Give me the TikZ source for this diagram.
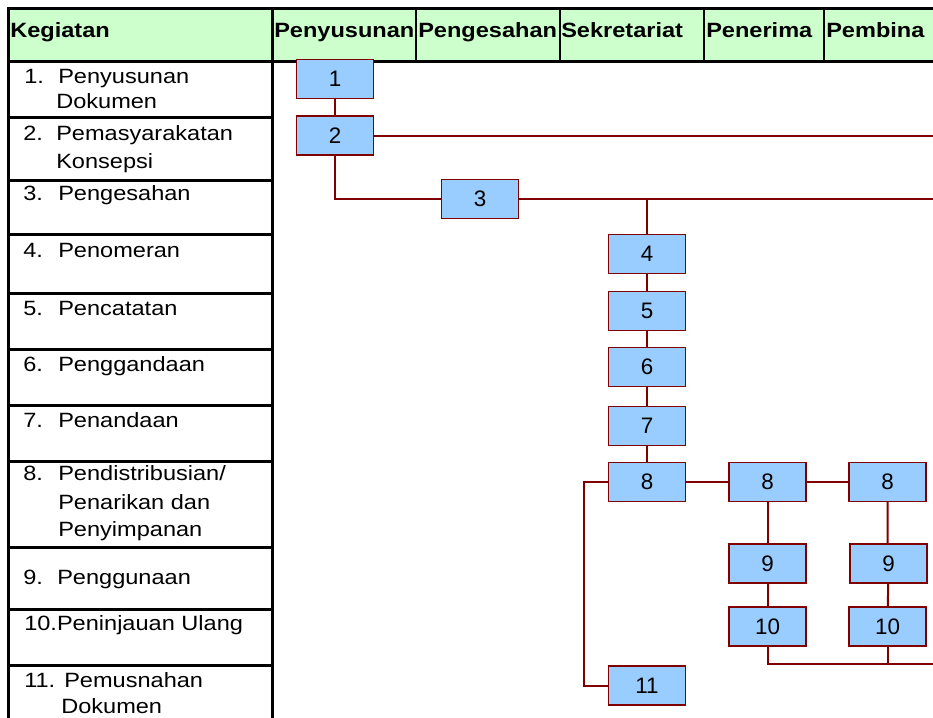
\documentclass[tikz,border=0pt]{standalone}
\usepackage{fontspec}
\setmainfont{Liberation Sans}
\newfontfamily\lebar[FakeStretch=1.14]{Liberation Sans}
\definecolor{hijaumuda}{HTML}{CCFFCC}
\definecolor{birukotak}{HTML}{99CCFF}
\definecolor{merahtua}{HTML}{800000}
\tikzset{
  kotak/.style={draw=merahtua, fill=birukotak, line width=1.1pt, minimum width=57.75pt,
    minimum height=29.25pt, inner sep=0pt, font=\fontsize{16.8}{20}\selectfont},
  judul/.style={anchor=base west, inner sep=0pt, font=\lebar\fontsize{15.5}{18}\selectfont\bfseries},
  isi/.style={anchor=base west, inner sep=0pt, font=\lebar\fontsize{15.5}{18}\selectfont},
  alur/.style={draw=merahtua, line width=1.5pt},
  tebal/.style={line width=2.25pt},
}
\begin{document}
\begin{tikzpicture}[x=0.75pt, y=-0.75pt]
  \useasboundingbox (0,0) rectangle (933,718);
  % kepala tabel
  \fill[hijaumuda] (8,8) rectangle (933,61);
  \draw[tebal] (7,8) -- (933,8) (7,61) -- (933,61);
  \draw[tebal] (8,7) -- (8,718) (272,8) -- (272,718);
  \foreach \x in {416,560,704,824}
    \draw[line width=1.5pt] (\x,8) -- (\x,61);
  \foreach \y in {117,180,234,293,349,405,461,547,609,665}
    \draw[tebal] (8,\y) -- (272,\y);
  \node[judul] (hKeg) at (10,37) {Kegiatan};
  \node[judul] (hSus) at (274,37) {Penyusunan};
  \node[judul] (hSah) at (418,37) {Pengesahan};
  \node[judul] (hSek) at (561,37) {Sekretariat};
  \node[judul] (hTer) at (706,37) {Penerima};
  \node[judul] (hBin) at (826,37) {Pembina};
  % kolom kegiatan
  \node[isi] (n1) at (24,83) {1.};
  \node[isi] (k1) at (58,83) {Penyusunan};
  \node[isi] (k1b) at (56,108) {Dokumen};
  \node[isi] (n2) at (23,140) {2.};
  \node[isi] (k2) at (56,140) {Pemasyarakatan};
  \node[isi] (k2b) at (56,168) {Konsepsi};
  \node[isi] (n3) at (23,200) {3.};
  \node[isi] (k3) at (58,200) {Pengesahan};
  \node[isi] (n4) at (23,257) {4.};
  \node[isi] (k4) at (58,257) {Penomeran};
  \node[isi] (n5) at (23,315) {5.};
  \node[isi] (k5) at (58,315) {Pencatatan};
  \node[isi] (n6) at (23,371) {6.};
  \node[isi] (k6) at (58,371) {Penggandaan};
  \node[isi] (n7) at (23,427) {7.};
  \node[isi] (k7) at (58,427) {Penandaan};
  \node[isi] (n8) at (23,480) {8.};
  \node[isi] (k8) at (58,480) {Pendistribusian/};
  \node[isi] (k8b) at (58,509) {Penarikan dan};
  \node[isi] (k8c) at (58,536) {Penyimpanan};
  \node[isi] (n9) at (23,584) {9.};
  \node[isi] (k9) at (57,584) {Penggunaan};
  \node[isi] (k10) at (24,630) {10.Peninjauan Ulang};
  \node[isi] (n11) at (24,687) {11.};
  \node[isi] (k11) at (64,687) {Pemusnahan};
  \node[isi] (k11b) at (61,713) {Dokumen};
  % kotak proses
  \node[kotak] (b1) at (335,79) {1};
  \node[kotak] (b2) at (335,135.5) {2};
  \node[kotak] (b3) at (480,199) {3};
  \node[kotak] (b4) at (647,254) {4};
  \node[kotak] (b5) at (647,311) {5};
  \node[kotak] (b6) at (647,367) {6};
  \node[kotak] (b7) at (647,426) {7};
  \node[kotak] (b8a) at (647,482) {8};
  \node[kotak] (b8b) at (767.5,482) {8};
  \node[kotak] (b8c) at (887.5,482) {8};
  \node[kotak] (b9a) at (767.5,563.5) {9};
  \node[kotak] (b9b) at (888.5,563.5) {9};
  \node[kotak] (b10a) at (767.5,626.5) {10};
  \node[kotak] (b10b) at (887.5,626.5) {10};
  \node[kotak] (b11) at (647,685.5) {11};
  \coordinate (kanan) at (933,0);
  \coordinate (belok) at (584,0);
  \coordinate (bawah) at (933,664);
  % garis alur
  \draw[alur] (b1) -- (b2);
  \draw[alur] (b2.east) -- (b2.east -| kanan);
  \draw[alur] (b2.south) |- (b3.west);
  \draw[alur] (b3.east) -- (b3.east -| kanan);
  \draw[alur] (b4.north) -- (b4.north |- b3.east);
  \draw[alur] (b4) -- (b5) (b5) -- (b6) (b6) -- (b7) (b7) -- (b8a);
  \draw[alur] (b8a) -- (b8b) (b8b) -- (b8c);
  \draw[alur] (b8a.west) -- (b8a.west -| belok) |- (b11.west);
  \draw[alur] (b8b) -- (b9a) (b9a) -- (b10a);
  \draw[alur] (b8c) -- (b9b.north -| b8c) (b9b) -- (b10b);
  \draw[alur] (b10a.south) |- (bawah);
  \draw[alur] (b10b.south) -- (b10b.south |- bawah);
\end{tikzpicture}
\end{document}
